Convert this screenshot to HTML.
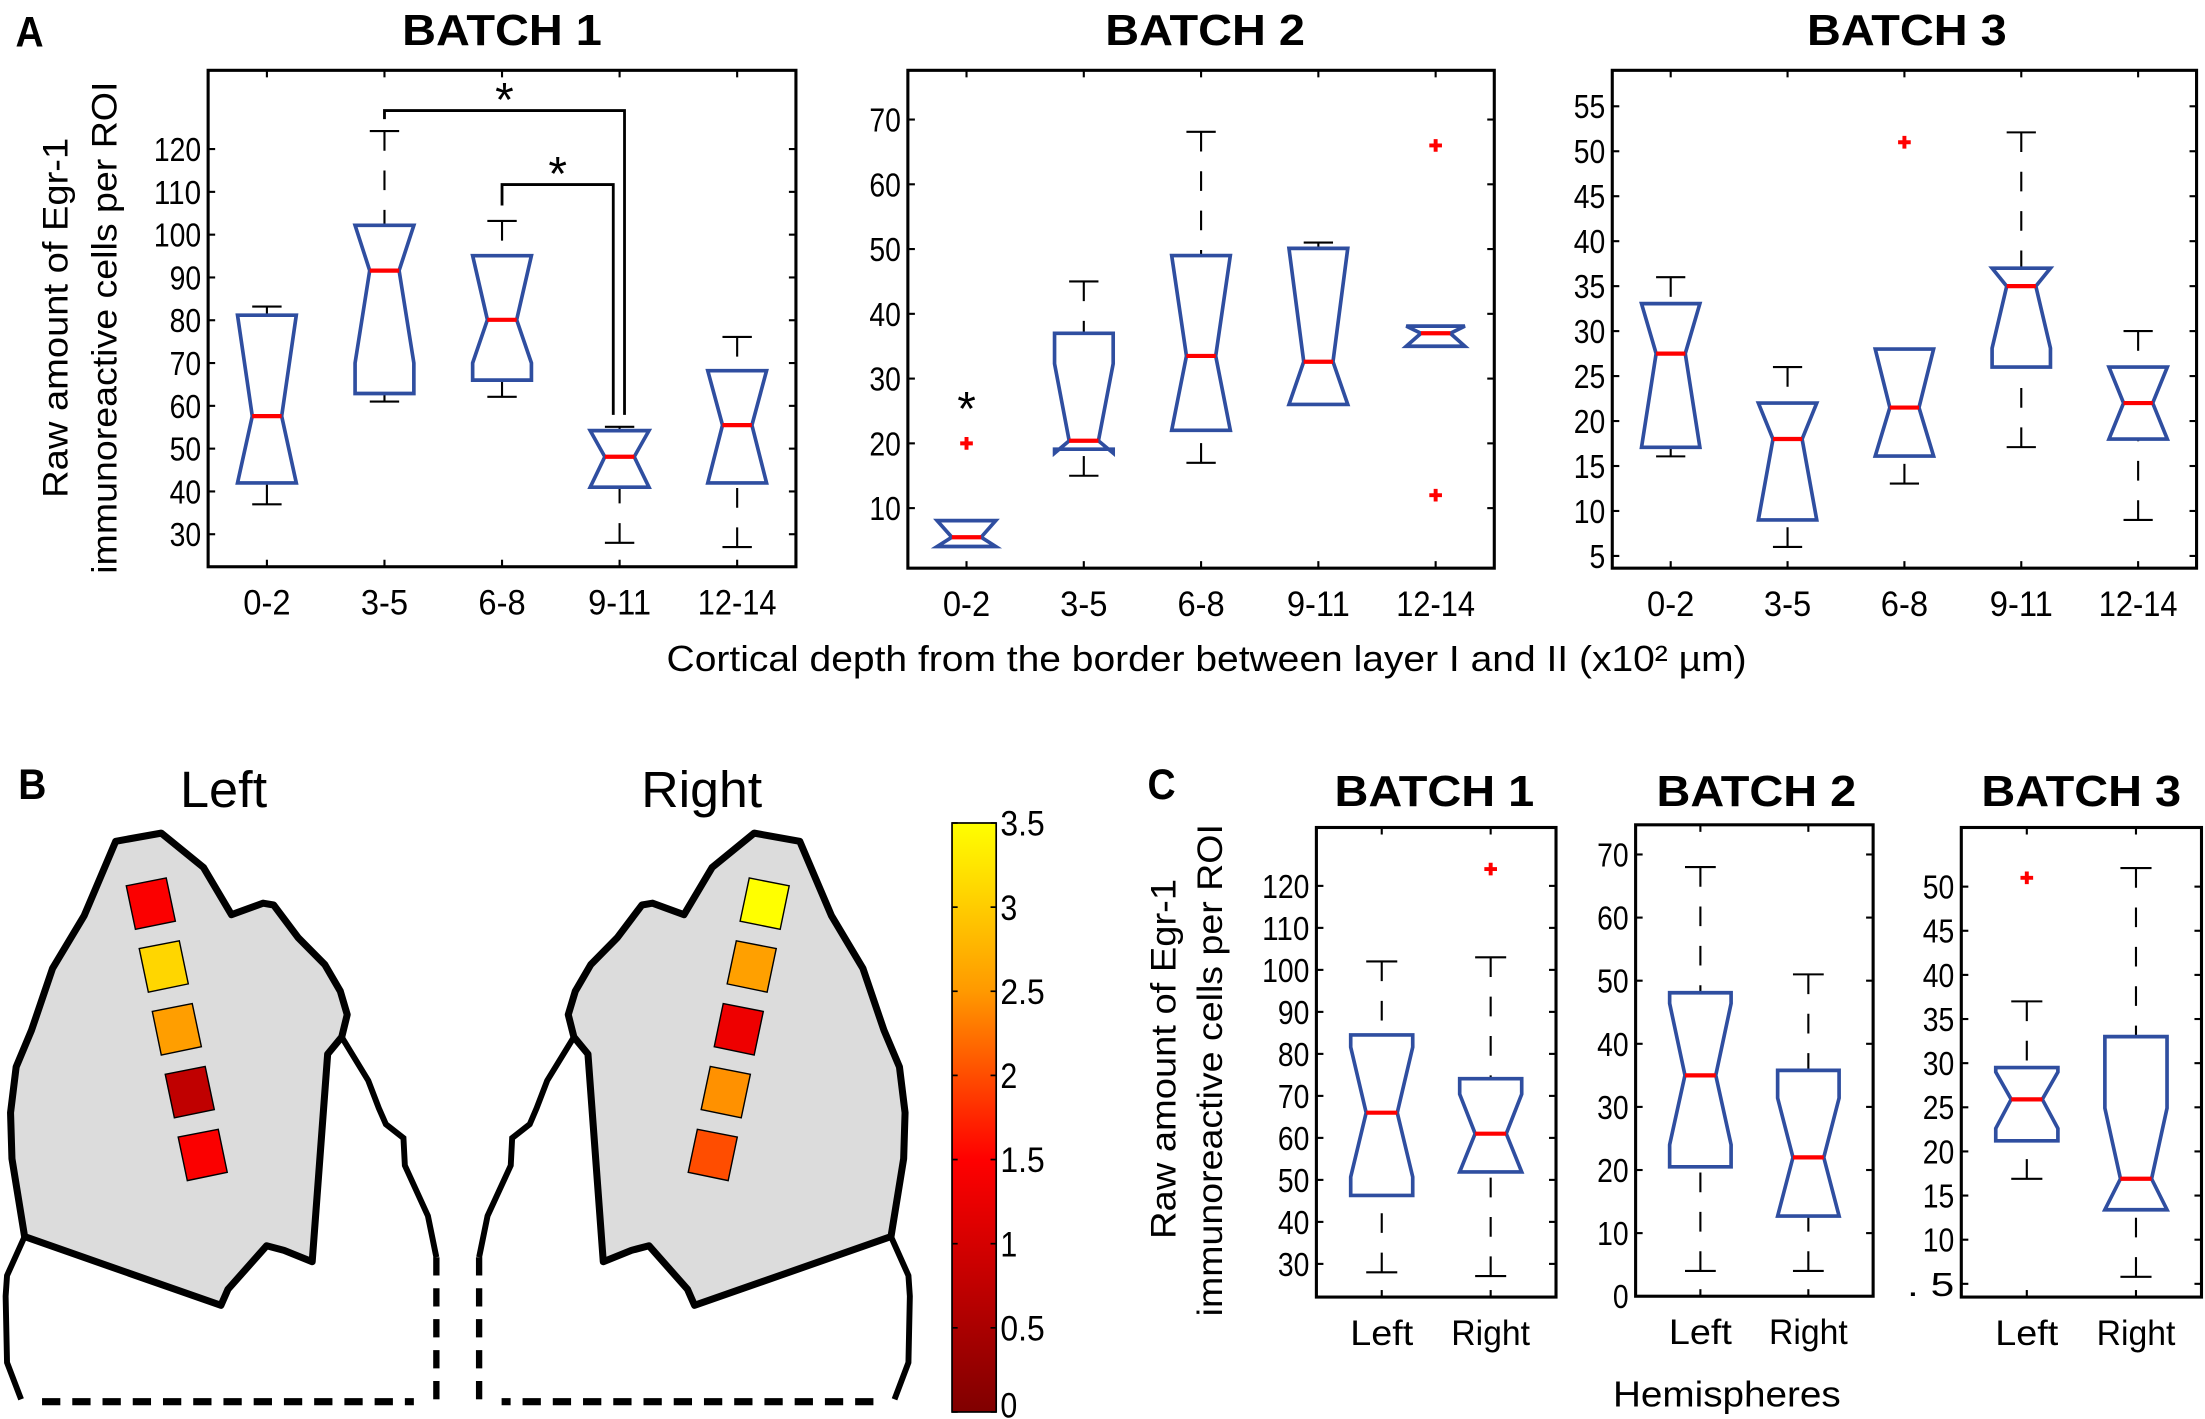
<!DOCTYPE html>
<html><head><meta charset="utf-8"><style>
html,body{margin:0;padding:0;background:#fff;}
svg{display:block;}
text{font-family:"Liberation Sans",Arial,sans-serif;fill:#000;}
</style></head><body>
<svg id="fig" xmlns="http://www.w3.org/2000/svg" width="2205" height="1419" viewBox="0 0 1568 1009" preserveAspectRatio="none">
<g id="root"></g>
</svg>
<script>
// ---------- DATA ----------
const catsA = ["0-2","3-5","6-8","9-11","12-14"];
const catsC = ["Left","Right"];
// Panel A batch 1
const a1_whi = [83.2,124.2,103.2,55.1,76.1];
const a1_q3  = [81.2,102.2,95.1,54.2,68.2];
const a1_nhi = [81.2,102.2,95.1,54.2,68.2];
const a1_med = [57.6,91.6,80.1,48.1,55.5];
const a1_nlo = [42,70,70,41,42];
const a1_q1  = [42,62.9,66,41,42];
const a1_wlo = [37,61,62.1,28,27];
const a1_out = [[],[],[],[],[]];
const a1_ticks = [30,40,50,60,70,80,90,100,110,120];
// Panel A batch 2
const a2_whi = [8.07,45,68.1,51,38.1];
const a2_q3  = [8.07,37,49,50.1,38.1];
const a2_nhi = [8.07,32.3,49,50.1,38.1];
const a2_med = [5.5,20.4,33.5,32.6,37];
const a2_nlo = [4.07,18.5,22,26,35];
const a2_q1  = [4.07,19.1,22,26,35];
const a2_wlo = [4.07,15,17,26,35];
const a2_out = [[20],[],[],[],[66,12]];
const a2_ticks = [10,20,30,40,50,60,70];
// Panel A batch 3
const a3_whi = [36,26,28,52.1,30];
const a3_q3  = [33.05,22,28,37,26];
const a3_nhi = [33.05,22,28,37,26];
const a3_med = [27.5,18,21.5,35,22];
const a3_nlo = [17.07,9,16.1,28.1,18];
const a3_q1  = [17.07,9,16.1,26,18];
const a3_wlo = [16.07,6,13.05,17.1,9];
const a3_out = [[],[],[51],[],[]];
const a3_ticks = [5,10,15,20,25,30,35,40,45,50,55];
// Panel C batch 1
const c1_whi = [102,103];
const c1_q3  = [84.5,74.1];
const c1_nhi = [81.6,70.4];
const c1_med = [66,61];
const c1_nlo = [50.7,51.9];
const c1_q1  = [46.3,51.9];
const c1_wlo = [28,27.1];
const c1_out = [[],[124]];
const c1_ticks = [30,40,50,60,70,80,90,100,110,120];
// Panel C batch 2
const c2_whi = [68,51];
const c2_q3  = [48.1,35.8];
const c2_nhi = [46.4,31.4];
const c2_med = [35,22];
const c2_nlo = [24,12.7];
const c2_q1  = [20.5,12.7];
const c2_wlo = [4,4];
const c2_out = [[],[]];
const c2_ticks = [0,10,20,30,40,50,60,70];
// Panel C batch 3
const c3_whi = [37,52.1];
const c3_q3  = [29.5,33];
const c3_nhi = [29,24.9];
const c3_med = [25.9,16.9];
const c3_nlo = [22.6,13.4];
const c3_q1  = [21.2,13.4];
const c3_wlo = [16.9,5.8];
const c3_out = [[51],[]];
const c3_ticks = [5,10,15,20,25,30,35,40,45,50];
const c3_tickLabels = [". 5","10","15","20","25","30","35","40","45","50"];
// Panel B heat values (left, right hemispheres, top to bottom)
const heatLeft  = [1.45,3.1,2.55,0.75,1.45];
const heatRight = [3.5,2.57,1.3,2.45,2.0];
const cbTicks = [0,0.5,1,1.5,2,2.5,3,3.5];
const cbLabels = ["0","0.5","1","1.5","2","2.5","3","3.5"];

// ---------- HELPERS ----------
const NS="http://www.w3.org/2000/svg";
const root=document.getElementById('root');
function mk(tag,attrs,parent){const e=document.createElementNS(NS,tag);for(const k in attrs)e.setAttribute(k,attrs[k]);(parent||root).appendChild(e);return e;}
function txt(s,attrs,parent){const e=mk('text',attrs,parent);e.textContent=s;return e;}
function condensed(s){return {textLength:(s.length*11.2).toFixed(1),lengthAdjust:'spacingAndGlyphs'};}

const BLUE="#2f4ea0", RED="#ff0000";

function drawPanel(name,L,R,T,B,vBot,vTop,xlo,xhi,cats,ticks,tickLabels,d,hwFrac){
  const g=mk('g',{});
  
  
  const yS=v=>B-(v-vBot)/(vTop-vBot)*(B-T);
  const xS=i=>L+((i+1)-xlo)/(xhi-xlo)*(R-L);
  const sp=(R-L)/(xhi-xlo);
  const hw=sp*hwFrac;
  const fr=mk('rect',{x:L,y:T,width:R-L,height:B-T,fill:'none',stroke:'#000','stroke-width':2.2},g);
  
  
  ticks.forEach((t,k)=>{
    const y=yS(t);
    mk('line',{x1:L,x2:L+5,y1:y,y2:y,stroke:'#000','stroke-width':1.5},g);
    mk('line',{x1:R,x2:R-5,y1:y,y2:y,stroke:'#000','stroke-width':1.5},g);
    const s=tickLabels?tickLabels[k]:String(t);
    const lb=txt(s,Object.assign({x:L-5,y:y+8.5,'text-anchor':'end','font-size':24},condensed(s)),g);
    
    
  });
  cats.forEach((c,i)=>{
    const x=xS(i);
    mk('line',{x1:x,x2:x,y1:B,y2:B-5,stroke:'#000','stroke-width':1.5},g);
    mk('line',{x1:x,x2:x,y1:T,y2:T+5,stroke:'#000','stroke-width':1.5},g);
    const lb=txt(c,Object.assign({x:x,y:B+34,'text-anchor':'middle','font-size':25},condensed(c)),g);
    
    
    const dash={stroke:'#000','stroke-width':1.5,'stroke-dasharray':'14 14'};
    if(d.whi[i]>d.q3[i]){const l=mk('line',Object.assign({x1:x,x2:x,y1:yS(d.whi[i]),y2:yS(d.q3[i])},dash),g);}
    if(d.wlo[i]<d.q1[i]){const l=mk('line',Object.assign({x1:x,x2:x,y1:yS(d.wlo[i]),y2:yS(d.q1[i])},dash),g);}
    const c1=mk('line',{x1:x-hw/2,x2:x+hw/2,y1:yS(d.whi[i]),y2:yS(d.whi[i]),stroke:'#000','stroke-width':1.5},g);
    
    const c2=mk('line',{x1:x-hw/2,x2:x+hw/2,y1:yS(d.wlo[i]),y2:yS(d.wlo[i]),stroke:'#000','stroke-width':1.5},g);
    
    const l=x-hw, r=x+hw, lm=x-hw/2, rm=x+hw/2;
    const pts=[[l,d.q1[i]],[l,d.nlo[i]],[lm,d.med[i]],[l,d.nhi[i]],[l,d.q3[i]],[r,d.q3[i]],[r,d.nhi[i]],[rm,d.med[i]],[r,d.nlo[i]],[r,d.q1[i]]];
    const bx=mk('polygon',{points:pts.map(p=>p[0].toFixed(1)+','+yS(p[1]).toFixed(1)).join(' '),fill:'none',stroke:BLUE,'stroke-width':2.6,'stroke-linejoin':'miter'},g);
    
    
    const md=mk('line',{x1:lm,x2:rm,y1:yS(d.med[i]),y2:yS(d.med[i]),stroke:RED,'stroke-width':3},g);
    
    
    d.out[i].forEach(o=>{
      const y=yS(o);
      const p=mk('path',{d:`M${x-4.5},${y}H${x+4.5}M${x},${y-4.5}V${y+4.5}`,stroke:RED,'stroke-width':2.8,fill:'none'},g);
      
      
    });
  });
  return {xS,yS,g};
}
function D(whi,q3,nhi,med,nlo,q1,wlo,out){return {whi,q3,nhi,med,nlo,q1,wlo,out};}

// ---------- PANEL A ----------
const pa1=drawPanel('panel-a-batch1',148,566,50,403,22.4,138.4,0.5,5.5,catsA,a1_ticks,null,D(a1_whi,a1_q3,a1_nhi,a1_med,a1_nlo,a1_q1,a1_wlo,a1_out),0.25);
const pa2=drawPanel('panel-a-batch2',645.6,1062.6,50,404,0.73,77.6,0.5,5.5,catsA,a2_ticks,null,D(a2_whi,a2_q3,a2_nhi,a2_med,a2_nlo,a2_q1,a2_wlo,a2_out),0.25);
const pa3=drawPanel('panel-a-batch3',1146.5,1562,50,404,3.64,59,0.5,5.5,catsA,a3_ticks,null,D(a3_whi,a3_q3,a3_nhi,a3_med,a3_nlo,a3_q1,a3_wlo,a3_out),0.25);
function bracket(p,i,j,level,yl,yr,dx){
  const x1=p.xS(i), x2=p.xS(j)+dx;
  const b=mk('path',{d:`M${x1},${p.yS(yl)}V${p.yS(level)}H${x2}V${p.yS(yr)}`,fill:'none',stroke:'#000','stroke-width':2},p.g);
  
  
  const s=txt('*',{x:(x1+x2)/2,y:p.yS(level)+4,'text-anchor':'middle','font-size':34},p.g);
  
  
}
bracket(pa1,1,3,129,127,57.9,3.5);
bracket(pa1,2,3,111.7,106.8,57.9,-4.5);
{const s=txt('*',{x:pa2.xS(0),y:pa2.yS(26.1)+15,'text-anchor':'middle','font-size':34},pa2.g);

}

// ---------- PANEL C ----------
drawPanel('panel-c-batch1',936.1,1106.5,588.4,922.3,22.1,133.9,0.4,2.6,catsC,c1_ticks,null,D(c1_whi,c1_q3,c1_nhi,c1_med,c1_nlo,c1_q1,c1_wlo,c1_out),0.285);
drawPanel('panel-c-batch2',1163.1,1332,586.5,921.7,0,74.7,0.4,2.6,catsC,c2_ticks,null,D(c2_whi,c2_q3,c2_nhi,c2_med,c2_nlo,c2_q1,c2_wlo,c2_out),0.285);
drawPanel('panel-c-batch3',1394.7,1565.5,588.4,922.3,3.5,56.7,0.4,2.6,catsC,c3_ticks,c3_tickLabels,D(c3_whi,c3_q3,c3_nhi,c3_med,c3_nlo,c3_q1,c3_wlo,c3_out),0.285);

// ---------- PANEL B ----------
function cmap(v){
  const st=[[0,[128,0,0]],[1.5,[255,0,0]],[2.5,[255,153,0]],[3.5,[255,255,0]]];
  v=Math.max(0,Math.min(3.5,v));
  for(let k=0;k<st.length-1;k++){const a=st[k],b=st[k+1];if(v<=b[0]){const t=(v-a[0])/(b[0]-a[0]);const c=a[1].map((q,m)=>Math.round(q+(b[1][m]-q)*t));return `rgb(${c.join(',')})`;}}
  return 'rgb(255,255,0)';
}
const gb=mk('g',{});


const hemiPts=[[165,308],[230,290],[290,365],[330,468],[375,443],[390,447],[425,518],[463,577],[485,635],[495,686],[487,735],[467,772],[445,1225],[405,1200],[380,1190],[325,1285],[315,1320],[35,1170],[17,1000],[15,900],[23,800],[45,720],[75,585],[120,470]];
const outerPts=[[35,1170],[10,1255],[8,1300],[10,1445],[30,1525]];
const innerPts=[[487,735],[525,830],[540,890],[550,925],[575,955],[577,1015],[610,1125],[620,1200],[622,1215]];
function drawHemi(mirror,vals,label){
  const tx=p=>{const x=mirror?1305-p[0]:p[0];return [x*0.49888,p[1]*0.32605+497.8];};
  const ps=a=>a.map(tx).map(p=>p[0].toFixed(1)+','+p[1].toFixed(1)).join(' ');
  const h=mk('polygon',{points:ps(hemiPts),fill:'#dcdcdc',stroke:'#000','stroke-width':5,'stroke-linejoin':'round'},gb);
  
  
  mk('polyline',{points:ps(outerPts),fill:'none',stroke:'#000','stroke-width':4.2},gb);
  mk('polyline',{points:ps(innerPts),fill:'none',stroke:'#000','stroke-width':4.2},gb);
  mk('polyline',{points:ps([[622,1215],[622,1535]]),fill:'none',stroke:'#000','stroke-width':4.5,'stroke-dasharray':'13 9'},gb);
  mk('polyline',{points:ps([[60,1530],[590,1530]]),fill:'none',stroke:'#000','stroke-width':5,'stroke-dasharray':'13 8.5'},gb);
  vals.forEach((v,k)=>{
    const x0=180+k*18.5, y0=405+k*137;
    const q=[[x0,y0],[x0+57,y0-17],[x0+70,y0+77],[x0+13,y0+95]];
    const r=mk('polygon',{points:ps(q),fill:cmap(v),stroke:'#000','stroke-width':1},gb);
    
    
  });
}
drawHemi(false,heatLeft,'left');
drawHemi(true,heatRight,'right');
const cbL=677,cbR=708.4,cbT=585.2,cbB=1004;
const defs=mk('defs',{});
const lg=mk('linearGradient',{id:'cbg',x1:0,y1:1,x2:0,y2:0},defs);
for(let k=0;k<=14;k++){const v=k*0.25;mk('stop',{offset:(v/3.5).toFixed(3),'stop-color':cmap(v)},lg);}
const cb=mk('rect',{x:cbL,y:cbT,width:cbR-cbL,height:cbB-cbT,fill:'url(#cbg)',stroke:'#000','stroke-width':1.2});


cbTicks.forEach((t,k)=>{
  const y=cbB-t/3.5*(cbB-cbT);
  mk('line',{x1:cbR-4,x2:cbR,y1:y,y2:y,stroke:'#000','stroke-width':1.2});
  mk('line',{x1:cbL,x2:cbL+4,y1:y,y2:y,stroke:'#000','stroke-width':1.2});
  const s=cbLabels[k];
  const lb=txt(s,Object.assign({x:cbR+3,y:Math.min(y+9,1008),'font-size':25},{textLength:(s.length===1?12:(s.length*10.5)).toFixed(1),lengthAdjust:'spacingAndGlyphs'}));
  
  
});
</script>
<svg style="position:absolute;left:0;top:0" width="2205" height="1419" viewBox="0 0 1568 1009" preserveAspectRatio="none">
<g font-family="Liberation Sans, Arial, sans-serif">
<text x="11" y="33" font-size="30" font-weight="bold" textLength="20" lengthAdjust="spacingAndGlyphs">A</text>
<text x="357" y="32" font-size="31" font-weight="bold" text-anchor="middle" textLength="142" lengthAdjust="spacingAndGlyphs">BATCH 1</text>
<text x="857" y="32" font-size="31" font-weight="bold" text-anchor="middle" textLength="142" lengthAdjust="spacingAndGlyphs">BATCH 2</text>
<text x="1356" y="32" font-size="31" font-weight="bold" text-anchor="middle" textLength="142" lengthAdjust="spacingAndGlyphs">BATCH 3</text>
<text transform="translate(48,226) rotate(-90)" font-size="25" text-anchor="middle" textLength="256" lengthAdjust="spacingAndGlyphs">Raw amount of Egr-1</text>
<text transform="translate(83,233) rotate(-90)" font-size="25" text-anchor="middle" textLength="350" lengthAdjust="spacingAndGlyphs">immunoreactive cells per ROI</text>
<text x="858" y="477" font-size="26" text-anchor="middle" textLength="768" lengthAdjust="spacingAndGlyphs">Cortical depth from the border between layer I and II (x10² µm)</text>
<text x="13" y="568" font-size="30" font-weight="bold" textLength="20" lengthAdjust="spacingAndGlyphs">B</text>
<text x="159" y="574" font-size="36" text-anchor="middle" textLength="62" lengthAdjust="spacingAndGlyphs">Left</text>
<text x="499" y="574" font-size="36" text-anchor="middle" textLength="86" lengthAdjust="spacingAndGlyphs">Right</text>
<text x="816" y="568" font-size="30" font-weight="bold" textLength="20" lengthAdjust="spacingAndGlyphs">C</text>
<text x="1020" y="573" font-size="31" font-weight="bold" text-anchor="middle" textLength="142" lengthAdjust="spacingAndGlyphs">BATCH 1</text>
<text x="1249" y="573" font-size="31" font-weight="bold" text-anchor="middle" textLength="142" lengthAdjust="spacingAndGlyphs">BATCH 2</text>
<text x="1480" y="573" font-size="31" font-weight="bold" text-anchor="middle" textLength="142" lengthAdjust="spacingAndGlyphs">BATCH 3</text>
<text transform="translate(836,753) rotate(-90)" font-size="25" text-anchor="middle" textLength="256" lengthAdjust="spacingAndGlyphs">Raw amount of Egr-1</text>
<text transform="translate(869,761) rotate(-90)" font-size="25" text-anchor="middle" textLength="350" lengthAdjust="spacingAndGlyphs">immunoreactive cells per ROI</text>
<text x="1228" y="1000" font-size="26" text-anchor="middle" textLength="162" lengthAdjust="spacingAndGlyphs">Hemispheres</text>
</g>
</svg>
</body></html>
